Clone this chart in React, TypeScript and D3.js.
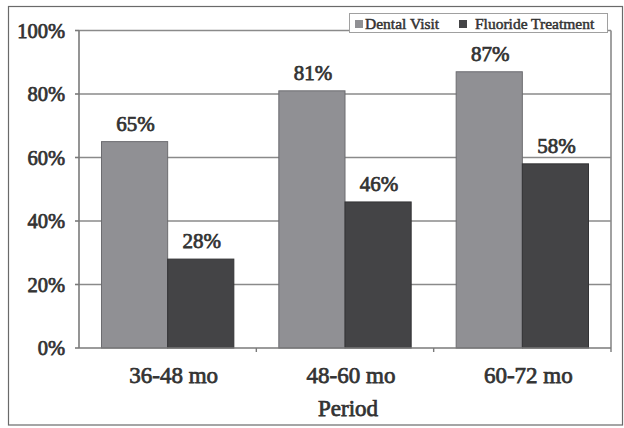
import React from "react";
import * as d3 from "d3";

const categories = ["36-48 mo", "48-60 mo", "60-72 mo"];
const series = ["Dental Visit", "Fluoride Treatment"];
const dentalVisit = [65, 81, 87];
const fluorideTreatment = [28, 46, 58];
const yTicks = [0, 20, 40, 60, 80, 100];

const W = 624;
const H = 428;
const M = { left: 79, right: 611, top: 30.5, bottom: 348 };
const FONT = "Liberation Serif, Tinos, Times New Roman, Times, serif";
const TEXT = "#333333";
const FILLS = ["#909094", "#444446"];
const STROKES = ["#6c6c70", "#333335"];

export default function App() {
  const x0 = d3.scaleBand<string>().domain(categories).range([M.left, M.right]).paddingInner(0).paddingOuter(0);
  const x1 = d3.scaleBand<string>().domain(series).range([0, x0.bandwidth()]).paddingInner(0).paddingOuter(0.34);
  const y = d3.scaleLinear().domain([0, 100]).range([M.bottom, M.top]);
  const values = [dentalVisit, fluorideTreatment];
  // regular serif, thickened slightly with a thin stroke of the same colour
  const txt = { fontFamily: FONT, fontWeight: 400 as const, fill: TEXT, stroke: TEXT, strokeWidth: 0.75 };

  return (
    <svg width={W} height={H} style={{ position: "absolute", left: 0, top: 0, background: "#fff" }}>
      <rect x={8.5} y={6.5} width={614} height={418.5} fill="#fff" stroke="#6a6a6a" strokeWidth={1.2} />

      {/* gridlines */}
      {yTicks.filter((t) => t > 0).map((t) => (
        <line key={t} x1={M.left} x2={M.right} y1={y(t)} y2={y(t)} stroke="#8a8a8a" strokeWidth={1.6} />
      ))}

      {/* right frame */}
      <line x1={M.right} x2={M.right} y1={M.top} y2={M.bottom} stroke="#8a8a8a" strokeWidth={1.6} />

      {/* bars */}
      {categories.map((c, ci) =>
        series.map((s, si) => {
          const v = values[si][ci];
          const bx = (x0(c) as number) + (x1(s) as number);
          const bw = x1.bandwidth();
          return (
            <g key={c + s}>
              <rect x={bx} y={y(v)} width={bw} height={y(0) - y(v)} fill={FILLS[si]} stroke={STROKES[si]} strokeWidth={1} />
              <text x={bx + bw / 2 + 1} y={y(v) - 11} textAnchor="middle" style={{ ...txt, fontSize: 21 }}>
                {v}%
              </text>
            </g>
          );
        })
      )}

      {/* y axis */}
      <line x1={M.left} x2={M.left} y1={M.top} y2={M.bottom} stroke="#7a7a7a" strokeWidth={1.6} />
      {yTicks.map((t) => (
        <g key={t}>
          <line x1={M.left - 4} x2={M.left} y1={y(t)} y2={y(t)} stroke="#7a7a7a" strokeWidth={1.6} />
          <text x={65} y={y(t)} dy="0.35em" textAnchor="end" style={{ ...txt, fontSize: 20.5 }}>
            {t}%
          </text>
        </g>
      ))}

      {/* x axis */}
      <line x1={M.left} x2={M.right} y1={M.bottom} y2={M.bottom} stroke="#7a7a7a" strokeWidth={1.6} />
      {categories.map((c) => (
        <line key={"t" + c} x1={(x0(c) as number) + x0.bandwidth()} x2={(x0(c) as number) + x0.bandwidth()} y1={M.bottom} y2={M.bottom + 4} stroke="#7a7a7a" strokeWidth={1.4} />
      ))}
      {categories.map((c) => (
        <text key={c} x={(x0(c) as number) + x0.bandwidth() / 2 + 6} y={383} textAnchor="middle" style={{ ...txt, fontSize: 23 }}>
          {c}
        </text>
      ))}
      <text x={(M.left + M.right) / 2 + 3} y={416} textAnchor="middle" style={{ ...txt, fontSize: 23 }}>
        Period
      </text>

      {/* legend */}
      <g>
        <rect x={349.5} y={13.5} width={258} height={19} fill="#fff" stroke="#a0a0a0" strokeWidth={1} />
        <rect x={355} y={20} width={8} height={8} fill={FILLS[0]} />
        <text x={365} y={28.5} style={{ ...txt, fontSize: 15.5, strokeWidth: 0.5 }}>
          {series[0]}
        </text>
        <rect x={459} y={20} width={8} height={8} fill={FILLS[1]} />
        <text x={475} y={28.5} style={{ ...txt, fontSize: 15.5, strokeWidth: 0.5 }}>
          {series[1]}
        </text>
      </g>
    </svg>
  );
}
